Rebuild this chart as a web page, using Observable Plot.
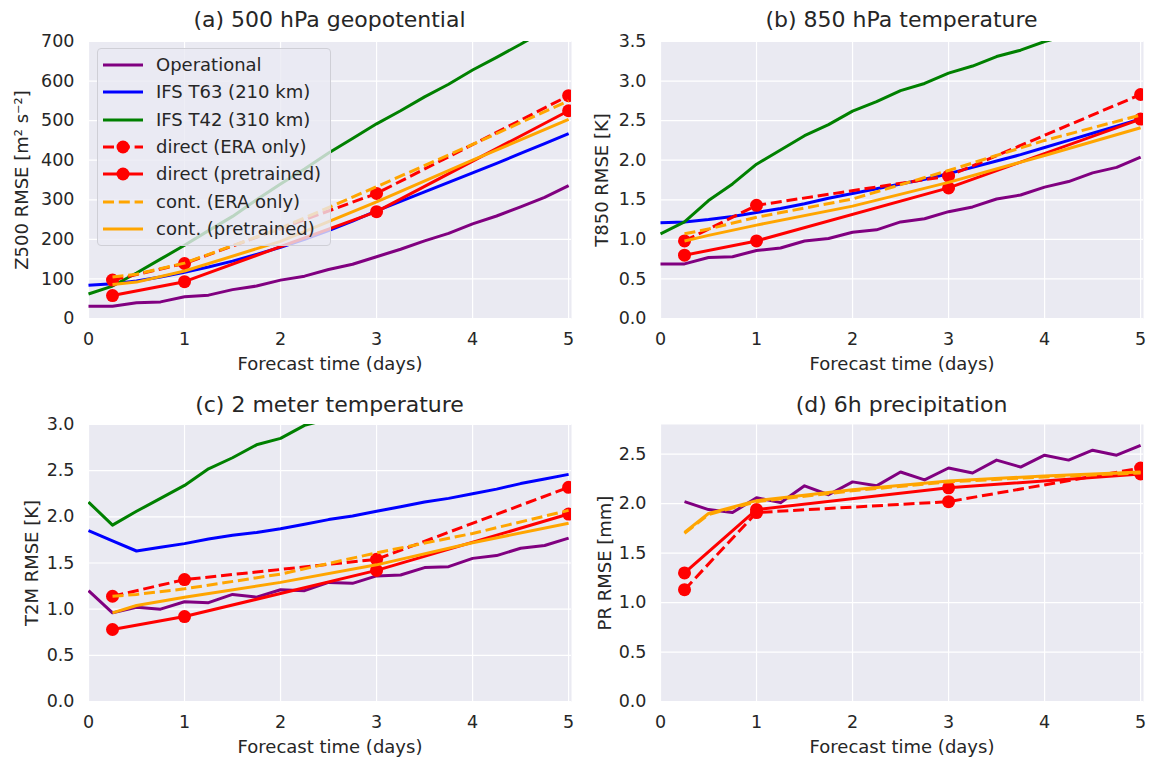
<!DOCTYPE html>
<html><head><meta charset="utf-8">
<script src="https://cdn.jsdelivr.net/npm/d3@7"></script>
<script src="https://cdn.jsdelivr.net/npm/@observablehq/plot@0.6"></script>
<style>
body{margin:0;background:#fff;font-family:"DejaVu Sans",sans-serif;color:#262626}
#wrap{position:relative;width:1149px;height:763px;overflow:hidden}
.panel{position:absolute}
.title{position:absolute;font-size:22px;text-align:center;white-space:nowrap;line-height:22px}
.legend{position:absolute;left:97px;top:48px;width:234px;height:198px;box-sizing:border-box;border:1px solid #cfcfd6;border-radius:4px;background:rgba(234,234,242,0.8)}
.lrow{position:absolute;left:0;height:24px;font-size:18px;line-height:24px;white-space:nowrap}
.lrow svg{position:absolute;left:4px;top:5px}
.lrow span{position:absolute;left:58px;top:0}
</style>
</head><body><div id="wrap"></div>
<script>
// ---------- data ----------
const xTicks = [0, 1, 2, 3, 4, 5];
const tStep = [0,0.25,0.5,0.75,1,1.25,1.5,1.75,2,2.25,2.5,2.75,3,3.25,3.5,3.75,4,4.25,4.5,4.75,5];
const tStepFrom6h = tStep.slice(1);
const tDirect = [0.25, 1, 3, 5];
const tCont = [0.25, 0.5, 1, 2, 3, 4, 5];

const seriesNames = ["Operational","IFS T63 (210 km)","IFS T42 (310 km)","direct (ERA only)","direct (pretrained)","cont. (ERA only)","cont. (pretrained)"];
const seriesColors = ["#800080","#0000ff","#008000","#ff0000","#ff0000","#ffa500","#ffa500"];
const seriesDashed = [false,false,false,true,false,true,false];
const seriesMarkers = [false,false,false,true,true,false,false];

// (a) Z500
const opA = [31,31,40,42,55,59,73,82,97,107,124,137,156,175,196,215,239,259,282,306,336];
const t63A = [84,88,95,105,117,130,145,162,180,200,222,246,272,296,320,344,368,392,417,442,467];
const t42A = [62,82,115,150,185,222,258,300,340,378,418,455,492,525,560,592,628,660,693,728];
const dirEraA = [97,139,316,563];
const dirPreA = [58,93,270,525];
const contEraA = [105,112,140,228,333,440,550];
const contPreA = [86,92,120,195,295,400,503];

// (b) T850
const opB = [0.69,0.69,0.77,0.78,0.86,0.89,0.98,1.01,1.09,1.12,1.22,1.26,1.35,1.41,1.51,1.56,1.66,1.73,1.84,1.91,2.04];
const t63B = [1.21,1.22,1.25,1.29,1.34,1.39,1.45,1.52,1.58,1.64,1.70,1.76,1.83,1.91,1.99,2.07,2.16,2.25,2.34,2.43,2.52];
const t42B = [1.07,1.22,1.49,1.70,1.95,2.13,2.31,2.45,2.62,2.74,2.88,2.97,3.10,3.19,3.31,3.39,3.50,3.58];
const dirEraB = [0.98,1.43,1.80,2.83];
const dirPreB = [0.80,0.98,1.65,2.52];
const contEraB = [1.07,1.13,1.28,1.51,1.87,2.25,2.57];
const contPreB = [0.98,1.05,1.18,1.42,1.72,2.06,2.41];

// (c) T2M
const opC = [1.20,0.96,1.02,1.00,1.08,1.07,1.16,1.13,1.21,1.20,1.29,1.28,1.36,1.37,1.45,1.46,1.55,1.58,1.66,1.69,1.77];
const t63C = [1.85,1.74,1.63,1.67,1.71,1.76,1.80,1.83,1.87,1.92,1.97,2.01,2.06,2.11,2.16,2.20,2.25,2.30,2.36,2.41,2.46];
const t42C = [2.16,1.91,2.06,2.20,2.34,2.52,2.64,2.78,2.85,2.99,3.06];
const dirEraC = [1.14,1.32,1.54,2.32];
const dirPreC = [0.78,0.92,1.42,2.03];
const contEraC = [1.14,1.16,1.22,1.38,1.61,1.82,2.07];
const contPreC = [0.96,1.04,1.13,1.29,1.48,1.72,1.93];

// (d) 6h precipitation
const opD = [2.02,1.94,1.91,2.06,2.01,2.18,2.09,2.22,2.18,2.32,2.24,2.36,2.31,2.44,2.37,2.49,2.44,2.54,2.49,2.59];
const dirEraD = [1.13,1.91,2.02,2.36];
const dirPreD = [1.30,1.94,2.16,2.30];
const contEraD = [1.70,1.89,2.02,2.13,2.22,2.27,2.31];
const contPreD = [1.71,1.90,2.03,2.14,2.23,2.28,2.32];

const yTicksA = [0,100,200,300,400,500,600,700];
const yTicksB = [0,0.5,1,1.5,2,2.5,3,3.5];
const yTicksC = [0,0.5,1,1.5,2,2.5,3];
const yTicksD = [0,0.5,1,1.5,2,2.5];

// ---------- drawing ----------
const wrap = document.getElementById("wrap");

function seriesList(vals, times) {
  return vals.map((v, i) => v ? {t: times[i], v, color: seriesColors[i], dash: seriesDashed[i], dot: seriesMarkers[i]} : null).filter(Boolean);
}

function panel(cfg) {
  const marks = [
    Plot.frame({fill: "#eaeaf2", stroke: null}),
    Plot.gridX(xTicks, {stroke: "#fff", strokeOpacity: 1, strokeWidth: 1.2}),
    Plot.gridY(cfg.yTicks, {stroke: "#fff", strokeOpacity: 1, strokeWidth: 1.2}),
    Plot.axisX(xTicks, {tickSize: 0, tickPadding: 14, fontSize: 17.5, label: null}),
    Plot.axisX({tickSize: 0, ticks: [], fontSize: 18, label: "Forecast time (days)", labelAnchor: "center", labelArrow: "none", labelOffset: 51}),
    Plot.axisY(cfg.yTicks, {tickSize: 0, tickPadding: 14, fontSize: 17.5, tickFormat: cfg.yFmt, label: null}),
    Plot.axisY({tickSize: 0, ticks: [], fontSize: 18, label: cfg.ylabel, labelAnchor: "center", labelArrow: "none", labelOffset: cfg.labelOffset})
  ];
  for (const s of cfg.series) {
    const rows = s.t.map((t, i) => ({t, v: s.v[i]}));
    marks.push(Plot.line(rows, {x: "t", y: "v", stroke: s.color, strokeWidth: 3, strokeDasharray: s.dash ? "11,4.8" : undefined, strokeLinecap: "butt", clip: true}));
    if (s.dot) marks.push(Plot.dot(rows, {x: "t", y: "v", r: 6.5, fill: s.color, stroke: "none", clip: true}));
  }
  const svg = Plot.plot({
    width: cfg.width, height: cfg.height,
    marginLeft: cfg.ml, marginRight: cfg.mr, marginTop: cfg.mt, marginBottom: cfg.mb,
    style: {fontFamily: "DejaVu Sans", fontSize: "17.5px", color: "#262626", background: "transparent", overflow: "visible"},
    x: {domain: [0, 5.03]},
    y: {domain: cfg.yDomain},
    marks
  });
  const div = document.createElement("div");
  div.className = "panel";
  div.style.left = cfg.left + "px";
  div.style.top = cfg.top + "px";
  div.appendChild(svg);
  wrap.appendChild(div);
  const t = document.createElement("div");
  t.className = "title";
  t.textContent = cfg.title;
  t.style.left = (cfg.left + cfg.ml) + "px";
  t.style.width = (cfg.width - cfg.ml - cfg.mr) + "px";
  t.style.top = (cfg.top + cfg.titleY - 11) + "px";
  wrap.appendChild(t);
}

const timesFull = [tStep, tStep, tStep.slice(0, t42A.length), tDirect, tDirect, tCont, tCont];

panel({left: 0, top: 0, width: 575, height: 383, ml: 88, mr: 4, mt: 41, mb: 65,
  yDomain: [0, 700], yTicks: yTicksA, yFmt: d3.format("d"), ylabel: "Z500 RMSE [m² s⁻²]", labelOffset: 73,
  title: "(a) 500 hPa geopotential", titleY: 20,
  series: seriesList([opA, t63A, t42A, dirEraA, dirPreA, contEraA, contPreA], timesFull)});

panel({left: 575, top: 0, width: 574, height: 383, ml: 85, mr: 6, mt: 41, mb: 65,
  yDomain: [0, 3.5], yTicks: yTicksB, yFmt: d3.format(".1f"), ylabel: "T850 RMSE [K]", labelOffset: 65,
  title: "(b) 850 hPa temperature", titleY: 20,
  series: seriesList([opB, t63B, t42B, dirEraB, dirPreB, contEraB, contPreB], [tStep, tStep, tStep.slice(0, t42B.length), tDirect, tDirect, tCont, tCont])});

panel({left: 0, top: 383, width: 575, height: 380, ml: 88, mr: 4, mt: 41, mb: 62,
  yDomain: [0, 3.0], yTicks: yTicksC, yFmt: d3.format(".1f"), ylabel: "T2M RMSE [K]", labelOffset: 63,
  title: "(c) 2 meter temperature", titleY: 22,
  series: seriesList([opC, t63C, t42C, dirEraC, dirPreC, contEraC, contPreC], [tStep, tStep, tStep.slice(0, t42C.length), tDirect, tDirect, tCont, tCont])});

panel({left: 575, top: 383, width: 574, height: 380, ml: 85, mr: 6, mt: 41, mb: 62,
  yDomain: [0, 2.8], yTicks: yTicksD, yFmt: d3.format(".1f"), ylabel: "PR RMSE [mm]", labelOffset: 62,
  title: "(d) 6h precipitation", titleY: 22,
  series: seriesList([opD, null, null, dirEraD, dirPreD, contEraD, contPreD], [tStepFrom6h, null, null, tDirect, tDirect, tCont, tCont])});

// legend (panel a)
const legend = document.createElement("div");
legend.className = "legend";
seriesNames.forEach((name, i) => {
  const row = document.createElement("div");
  row.className = "lrow";
  row.style.top = (4 + i * 27.3) + "px";
  const dash = seriesDashed[i] ? ' stroke-dasharray="11,4.8"' : "";
  const dot = seriesMarkers[i] ? `<circle cx="21" cy="7" r="6.5" fill="${seriesColors[i]}"/>` : "";
  row.innerHTML = `<svg width="44" height="14"><line x1="1" y1="7" x2="41" y2="7" stroke="${seriesColors[i]}" stroke-width="3"${dash}/>${dot}</svg><span>${name}</span>`;
  legend.appendChild(row);
});
wrap.appendChild(legend);
</script>
</body></html>
